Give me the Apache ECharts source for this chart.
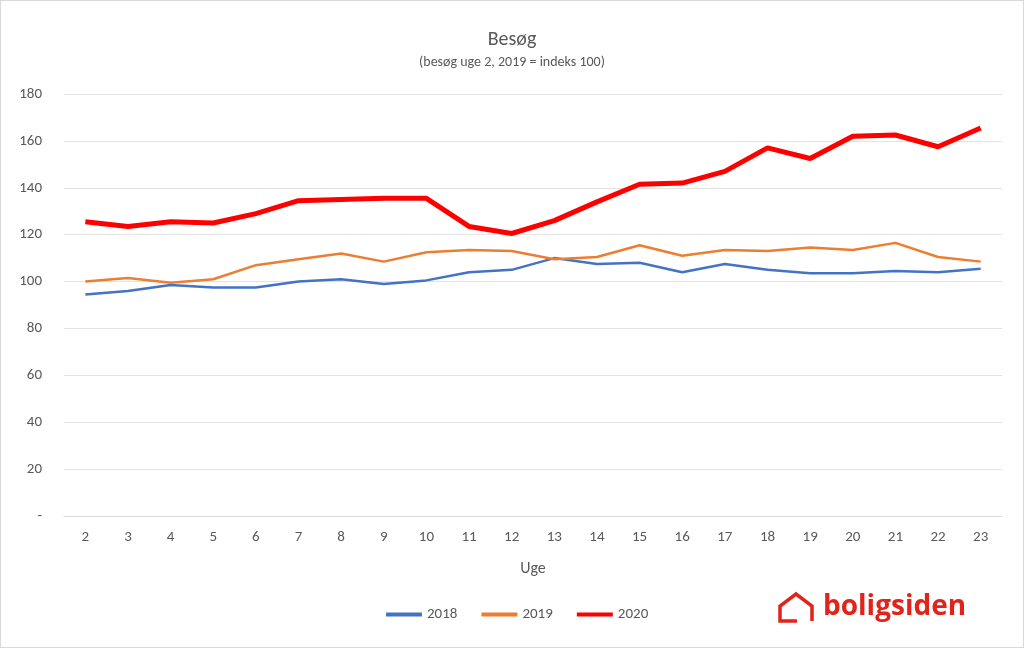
<!DOCTYPE html>
<html><head><meta charset="utf-8">
<script src="https://cdn.jsdelivr.net/npm/echarts@6/dist/echarts.min.js"></script>
<style>html,body{margin:0;background:#fff}#c{width:1022px;height:646px;border:1px solid #d9d9d9}</style>
</head><body><div id="c"></div>
<script>
const weeks = ['2','3','4','5','6','7','8','9','10','11','12','13','14','15','16','17','18','19','20','21','22','23'];
const s2018 = [94.5,96,98.5,97.5,97.5,100,101,99,100.5,104,105,110,107.5,108,104,107.5,105,103.5,103.5,104.5,104,105.5];
const s2019 = [100,101.5,99.5,101,107,109.5,112,108.5,112.5,113.5,113,109.5,110.5,115.5,111,113.5,113,114.5,113.5,116.5,110.5,108.5];
const s2020 = [125.5,123.5,125.5,125,129,134.5,135,135.5,135.5,123.5,120.5,126,134,141.5,142,147,157,152.5,162,162.5,157.5,165.5];

const chart = echarts.init(document.getElementById('c'));
const font = 'Calibri, Carlito, "Open Sans", sans-serif';
chart.setOption({
  animation: false,
  textStyle: { fontFamily: font },
  title: {
    text: 'Besøg', subtext: '(besøg uge 2, 2019 = indeks 100)', left: 'center', top: 24, itemGap: 5,
    textStyle: { fontSize: 20, fontWeight: 'normal', color: '#595959', fontFamily: font },
    subtextStyle: { fontSize: 14, color: '#595959', fontFamily: font }
  },
  grid: { left: 63, right: 21, top: 93, bottom: 131 },
  legend: {
    bottom: 20, left: 380, itemWidth: 36, itemGap: 24,
    icon: 'rect', itemHeight: 4,
    textStyle: { fontSize: 15, color: '#595959' },
    data: ['2018', '2019', '2020']
  },
  xAxis: {
    type: 'category', data: weeks, name: 'Uge', nameLocation: 'middle', nameGap: 45,
    nameTextStyle: { fontSize: 16, color: '#595959' },
    axisLine: { lineStyle: { color: '#d9d9d9' } }, axisTick: { show: false },
    axisLabel: { fontSize: 15, color: '#595959', margin: 14 }
  },
  yAxis: {
    type: 'value', min: 0, max: 180, interval: 20,
    axisLine: { show: false }, axisTick: { show: false },
    splitLine: { lineStyle: { color: '#e3e3e3' } },
    axisLabel: { fontSize: 15, color: '#595959', margin: 22, formatter: v => v === 0 ? '-' : v }
  },
  series: [
    { name: '2018', type: 'line', data: s2018, symbol: 'none', lineStyle: { width: 2.5, color: '#4472c4' }, itemStyle: { color: '#4472c4' } },
    { name: '2019', type: 'line', data: s2019, symbol: 'none', lineStyle: { width: 2.5, color: '#ed7d31' }, itemStyle: { color: '#ed7d31' } },
    { name: '2020', type: 'line', data: s2020, symbol: 'none', lineStyle: { width: 5, color: '#ff0000' }, itemStyle: { color: '#ff0000' } }
  ],
  graphic: [
    { type: 'polyline', shape: { points: [[796,620],[779,620],[779,605],[795,593],[811,605],[811,620]] },
      style: { fill: null, stroke: '#e2231a', lineWidth: 3.5 } },
    { type: 'text', left: 822, top: 592,
      style: { text: 'boligsiden', fill: '#e2231a', font: 'bold 28px "Open Sans", sans-serif' } }
  ]
});
</script></body></html>
